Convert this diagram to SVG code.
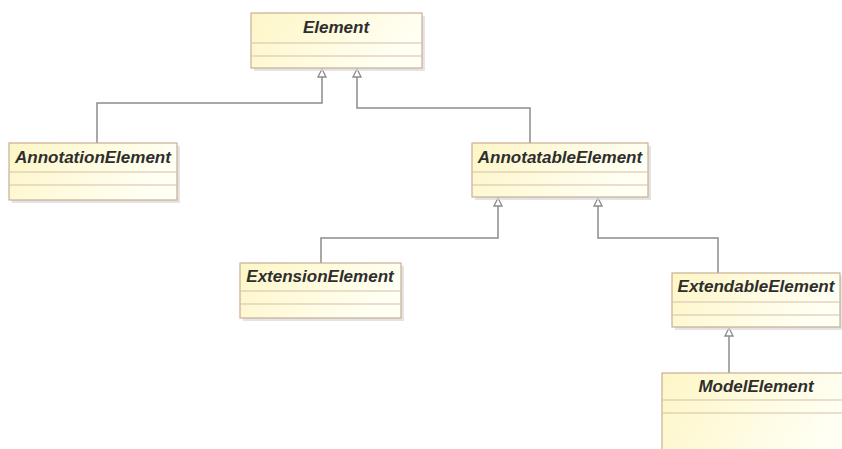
<svg xmlns="http://www.w3.org/2000/svg" width="842" height="449" viewBox="0 0 842 449">
<style>
.box{fill:url(#g);stroke:#c9ae96;stroke-width:1.2}
.sh{fill:#d8d8d8;opacity:0.7}
.div{stroke:#d6bfa8;stroke-width:1.2}
.t{font-family:"Liberation Sans",Arial,sans-serif;font-weight:bold;font-style:italic;font-size:17px;fill:#2e2e2e;text-anchor:middle}
.c{fill:none;stroke:#8c8c8c;stroke-width:1.5}
</style>
<defs>
<linearGradient id="g" x1="0" y1="0" x2="1" y2="0.3">
<stop offset="0" stop-color="#fdf6c6"/>
<stop offset="1" stop-color="#fffff4"/>
</linearGradient>
<marker id="tri" markerWidth="10" markerHeight="10" refX="9" refY="5" orient="auto" markerUnits="userSpaceOnUse" viewBox="0 0 10 10">
<path d="M9,5 L1,1 L1,9 Z" fill="#fff" stroke="#8c8c8c" stroke-width="1.3"/>
</marker>
</defs>
<g id="connectors">
<path class="c" d="M97,143 V103 H322 V69" marker-end="url(#tri)"/>
<path class="c" d="M530,143 V108 H357 V69" marker-end="url(#tri)"/>
<path class="c" d="M321,263 V238 H498 V198" marker-end="url(#tri)"/>
<path class="c" d="M718,273 V238 H598 V198" marker-end="url(#tri)"/>
<path class="c" d="M729,373 V328" marker-end="url(#tri)"/>
</g>
<g id="Element">
<rect class="sh" x="254" y="16" width="171" height="55"/>
<rect class="box" x="251" y="13" width="171" height="55"/>
<line class="div" x1="251" y1="43" x2="422" y2="43"/>
<line class="div" x1="251" y1="56" x2="422" y2="56"/>
<text class="t" x="336" y="33">Element</text>
</g>
<g id="AnnotationElement">
<rect class="sh" x="12" y="146" width="168" height="57"/>
<rect class="box" x="9" y="143" width="168" height="57"/>
<line class="div" x1="9" y1="172" x2="177" y2="172"/>
<line class="div" x1="9" y1="185" x2="177" y2="185"/>
<text class="t" x="93" y="163">AnnotationElement</text>
</g>
<g id="AnnotatableElement">
<rect class="sh" x="475" y="146" width="176" height="54"/>
<rect class="box" x="472" y="143" width="176" height="54"/>
<line class="div" x1="472" y1="172" x2="648" y2="172"/>
<line class="div" x1="472" y1="185" x2="648" y2="185"/>
<text class="t" x="560" y="163">AnnotatableElement</text>
</g>
<g id="ExtensionElement">
<rect class="sh" x="243" y="266" width="161" height="55"/>
<rect class="box" x="240" y="263" width="161" height="55"/>
<line class="div" x1="240" y1="291" x2="401" y2="291"/>
<line class="div" x1="240" y1="304" x2="401" y2="304"/>
<text class="t" x="320" y="282">ExtensionElement</text>
</g>
<g id="ExtendableElement">
<rect class="sh" x="675" y="276" width="170" height="54"/>
<rect class="box" x="672" y="273" width="168" height="54"/>
<line class="div" x1="672" y1="302" x2="840" y2="302"/>
<line class="div" x1="672" y1="315" x2="840" y2="315"/>
<text class="t" x="756" y="292">ExtendableElement</text>
</g>
<g id="ModelElement">
<rect class="sh" x="665" y="376" width="190" height="90"/>
<rect class="box" x="662" y="373" width="188" height="90"/>
<line class="div" x1="662" y1="400" x2="850" y2="400"/>
<line class="div" x1="662" y1="413" x2="850" y2="413"/>
<text class="t" x="756" y="392">ModelElement</text>
</g>
</svg>
